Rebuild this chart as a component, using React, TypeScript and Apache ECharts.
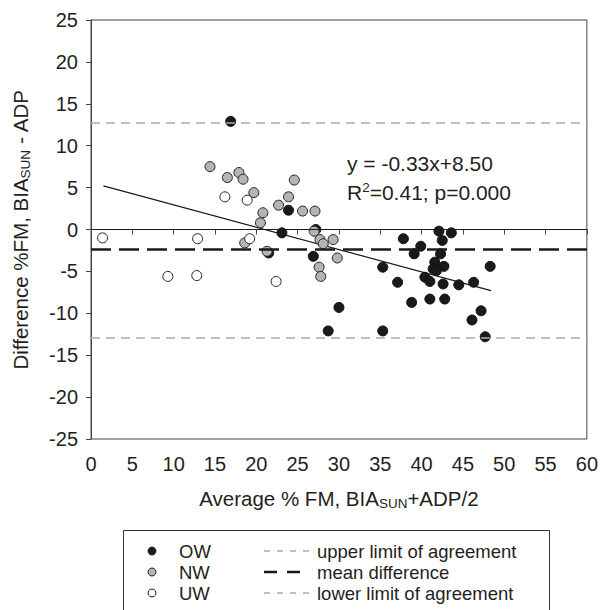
import React, { useEffect, useRef } from "react";
import * as echarts from "echarts";

const xTicks = [0, 60, 5];
const yTicks = [-25, 25, 5];

const owPoints = [
  [16.9, 12.9], [23.9, 2.3], [27.2, 0.0], [23.1, -0.4], [21.5, -2.8], [26.9, -3.2],
  [35.3, -4.5], [30.0, -9.3], [28.7, -12.1], [35.3, -12.1], [42.1, -0.2], [43.6, -0.4],
  [37.8, -1.1], [42.5, -1.3], [39.9, -2.0], [39.1, -2.9], [42.3, -2.9], [41.6, -3.9],
  [42.7, -4.4], [41.4, -4.7], [41.8, -4.9], [48.3, -4.4], [40.4, -5.7], [41.0, -6.2],
  [37.1, -6.3], [42.6, -6.5], [44.5, -6.6], [46.3, -6.3], [38.8, -8.7], [41.0, -8.3],
  [42.8, -8.3], [47.2, -9.7], [46.1, -10.8], [47.7, -12.8],
];

const nwPoints = [
  [14.4, 7.5], [16.5, 6.2], [17.9, 6.8], [18.4, 6.0], [19.7, 4.4], [24.6, 5.9],
  [23.9, 3.9], [22.7, 2.9], [25.6, 2.2], [27.1, 2.2], [20.8, 2.0], [20.5, 0.8],
  [27.0, -0.2], [27.7, -1.2], [28.1, -1.7], [29.3, -1.2], [18.6, -1.6], [21.3, -2.6],
  [29.8, -3.4], [27.6, -4.5], [27.8, -5.6],
];

const uwPoints = [
  [16.2, 3.9], [18.9, 3.5], [1.4, -1.0], [12.9, -1.1], [19.2, -1.1], [9.3, -5.6],
  [12.8, -5.5], [22.4, -6.2],
];

const regressionLine = [[1.5, 5.2], [48.4, -7.3]];

const upperLimit = 12.7;
const meanDifference = -2.4;
const lowerLimit = -12.9;
const zeroLine = 0;

const equationText = "y = -0.33x+8.50";
const rSquaredText = ["R", "2", "=0.41; p=0.000"];

const legendGroups = ["OW", "NW", "UW"];
const legendLines = ["upper limit of agreement", "mean difference", "lower limit of agreement"];

const FONT = "'Liberation Sans', Arial, Helvetica, sans-serif";
const TXT = "#231f20";

export default function App() {
  const ref = useRef<HTMLDivElement>(null);

  useEffect(() => {
    if (!ref.current) return;
    const chart = echarts.init(ref.current, null, { renderer: "svg" });

    const symbolColors = ["#1a1a1a", "#b4b4b4", "#ffffff"];
    const legendX = 152;
    const rowY = [551, 572, 593];

    const legendGraphics: any[] = [
      {
        type: "rect",
        shape: { x: 123.5, y: 530.5, width: 426, height: 95 },
        style: { fill: "#fff", stroke: "#333", lineWidth: 1 },
      },
    ];
    legendGroups.forEach((g, i) => {
      legendGraphics.push({
        type: "circle",
        shape: { cx: legendX, cy: rowY[i], r: 4 },
        style: { fill: symbolColors[i], stroke: "#222", lineWidth: 1 },
      });
      legendGraphics.push({
        type: "text",
        x: 179,
        y: rowY[i],
        style: { text: g, font: `18.5px ${FONT}`, fill: TXT, verticalAlign: "middle", align: "left" },
      });
    });
    legendLines.forEach((t, i) => {
      const isMean = i === 1;
      legendGraphics.push({
        type: "line",
        shape: { x1: 264, y1: rowY[i], x2: 310, y2: rowY[i] },
        style: isMean
          ? { stroke: "#1a1a1a", lineWidth: 2.5, lineDash: [13, 10] }
          : { stroke: "#aaaaaa", lineWidth: 1.3, lineDash: [6, 7] },
      });
      legendGraphics.push({
        type: "text",
        x: 317,
        y: rowY[i],
        style: { text: t, font: `18.5px ${FONT}`, fill: TXT, verticalAlign: "middle", align: "left" },
      });
    });

    const option: any = {
      animation: false,
      backgroundColor: "#fff",
      textStyle: { fontFamily: FONT },
      grid: {
        left: 91,
        right: 14,
        top: 20,
        bottom: 171,
        show: true,
        borderColor: "#444",
        borderWidth: 1,
        backgroundColor: "transparent",
      },
      xAxis: {
        type: "value",
        min: xTicks[0],
        max: xTicks[1],
        interval: xTicks[2],
        splitLine: { show: false },
        axisLine: { show: true, lineStyle: { color: "#444", width: 1 } },
        axisTick: { show: true, length: 5, lineStyle: { color: "#444" } },
        axisLabel: { color: TXT, fontSize: 20, margin: 15, fontFamily: FONT },
        name: "{a|Average % FM, BIA}{s|SUN}{a|+ADP/2}",
        nameLocation: "middle",
        nameGap: 47,
        nameTextStyle: {
          rich: {
            a: { fontSize: 20.5, color: TXT, fontFamily: FONT, lineHeight: 24 },
            s: { fontSize: 13.5, color: TXT, fontFamily: FONT, lineHeight: 13, verticalAlign: "bottom" },
          },
        },
      },
      yAxis: {
        type: "value",
        min: yTicks[0],
        max: yTicks[1],
        interval: yTicks[2],
        splitLine: { show: false },
        axisLine: { show: true, lineStyle: { color: "#444", width: 1 } },
        axisTick: { show: true, length: 5, lineStyle: { color: "#444" } },
        axisLabel: { color: TXT, fontSize: 20, margin: 13, fontFamily: FONT },
        name: "{a|Difference %FM, BIA}{s|SUN}{a| - ADP}",
        nameLocation: "middle",
        nameGap: 59,
        nameRotate: 90,
        nameTextStyle: {
          rich: {
            a: { fontSize: 20.5, color: TXT, fontFamily: FONT, lineHeight: 24 },
            s: { fontSize: 13.5, color: TXT, fontFamily: FONT, lineHeight: 13, verticalAlign: "bottom" },
          },
        },
      },
      series: [
        {
          type: "line",
          name: "reference lines",
          data: [],
          z: 1,
          markLine: {
            silent: true,
            symbol: ["none", "none"],
            label: { show: false },
            data: [
              { yAxis: zeroLine, lineStyle: { color: "#1a1a1a", width: 1.2, type: "solid" } },
              { yAxis: upperLimit, lineStyle: { color: "#aaaaaa", width: 1.5, type: [9, 6] } },
              { yAxis: lowerLimit, lineStyle: { color: "#aaaaaa", width: 1.5, type: [9, 6] } },
              { yAxis: meanDifference, lineStyle: { color: "#1a1a1a", width: 2.5, type: [20, 8] } },
            ],
          },
        },
        {
          type: "line",
          name: "regression",
          data: regressionLine,
          symbol: "none",
          z: 2,
          lineStyle: { color: "#1a1a1a", width: 1.2 },
        },
        {
          type: "scatter",
          name: "OW",
          data: owPoints,
          symbolSize: 10,
          z: 3,
          itemStyle: { color: "#1a1a1a", borderColor: "#111", borderWidth: 1, opacity: 1 },
        },
        {
          type: "scatter",
          name: "NW",
          data: nwPoints,
          symbolSize: 10,
          z: 4,
          itemStyle: { color: "#b4b4b4", borderColor: "#222", borderWidth: 1, opacity: 1 },
        },
        {
          type: "scatter",
          name: "UW",
          data: uwPoints,
          symbolSize: 10,
          z: 5,
          itemStyle: { color: "#ffffff", borderColor: "#222", borderWidth: 1, opacity: 1 },
        },
      ],
      graphic: [
        {
          type: "text",
          x: 347,
          y: 163,
          style: { text: equationText, font: `21px ${FONT}`, fill: TXT, verticalAlign: "middle", align: "left" },
        },
        {
          type: "text",
          x: 347,
          y: 192,
          style: {
            text: `{a|${rSquaredText[0]}}{b|${rSquaredText[1]}}{a|${rSquaredText[2]}}`,
            verticalAlign: "middle",
            align: "left",
            rich: {
              a: { fontSize: 21, fontFamily: FONT, fill: TXT, lineHeight: 24 },
              b: { fontSize: 13.5, fontFamily: FONT, fill: TXT, lineHeight: 13, verticalAlign: "top" },
            },
          },
        },
        ...legendGraphics,
      ],
    };

    chart.setOption(option);
    return () => chart.dispose();
  }, []);

  return (
    <div
      ref={ref}
      style={{ position: "fixed", left: 0, top: 0, width: 601, height: 610, background: "#fff" }}
    />
  );
}
